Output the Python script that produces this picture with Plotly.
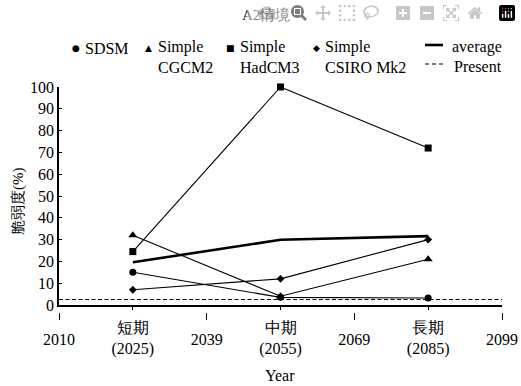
import plotly.graph_objects as go

# ---- data ----
period_labels = ["短期<br>(2025)", "中期<br>(2055)", "長期<br>(2085)"]
period_pos = [1, 3, 5]
year_labels = ["2010", "2039", "2069", "2099"]
year_pos = [0, 2, 4, 6]

sdsm = [15, 3.5, 3.2]
cgcm2 = [32, 4, 21]
hadcm3 = [24.5, 100, 72]
csiro = [7, 12, 30]
average = [19.6, 29.9, 31.6]
present = 2.5
present_x = [0, 6]

# body margin is removed by post_script, so coordinates are screen pixels
W, H = 521, 386
PL, PR, PT, PB = 59, 502, 87, 312   # plot area (PB = lower tick axis)
ML, MR, MT, MB = PL, W - PR, PT, H - PB
PW, PH = W - ML - MR, H - MT - MB
FONT = "Liberation Serif"


def px(x):
    return (x - PL) / PW


def py(y):
    return (PB - y) / PH


fig = go.Figure()

series = [
    (sdsm, "circle", 7),
    (cgcm2, "triangle-up", 8),
    (hadcm3, "square", 7),
    (csiro, "diamond", 6),
]
for vals, sym, sz in series:
    fig.add_trace(go.Scatter(
        x=period_pos, y=vals, mode="lines+markers",
        line=dict(color="black", width=1.1),
        marker=dict(symbol=sym, size=sz, color="black"),
        showlegend=False, cliponaxis=False))

fig.add_trace(go.Scatter(
    x=period_pos, y=average, mode="lines",
    line=dict(color="black", width=2.6), showlegend=False))

fig.add_trace(go.Scatter(
    x=present_x, y=[present, present], mode="lines", xaxis="x2", yaxis="y",
    line=dict(color="black", width=1.1, dash="4px,2.5px"), showlegend=False))


def note(text, x, y, size=16, xanchor="center", yanchor="middle", family=FONT, **kw):
    return dict(text=text, x=px(x), y=py(y), xref="paper", yref="paper",
                showarrow=False, xanchor=xanchor, yanchor=yanchor,
                font=dict(size=size, family=family, color="black"), **kw)


ann = [
    note("A2情境", 266, 15, size=15),
    note("脆弱度(%)", 18, 201, size=15, textangle=-90),
    note("Year", 280, 375, size=16),
]

# legend (manual)
leg_items = [
    ("●", 76, "SDSM", 83, 48),
    ("▲", 148, "Simple<br>CGCM2", 156, 57.5),
    ("■", 230, "Simple<br>HadCM3", 238, 57.5),
    ("◆", 316, "Simple<br>CSIRO Mk2", 323, 57.5),
]
for s, sx, t, tx, ty in leg_items:
    ann.append(note(s, sx, 48, size=9, family="DejaVu Sans"))
    ann.append(note(t, tx, ty, size=16, xanchor="left", align="left"))
ann.append(note("average", 504, 47, xanchor="right"))
ann.append(note("Present", 504, 66, xanchor="right"))

shapes = [
    dict(type="line", xref="paper", yref="paper", x0=px(425), x1=px(443), y0=py(45), y1=py(45),
         line=dict(color="black", width=2.6)),
    dict(type="line", xref="paper", yref="paper", x0=px(425), x1=px(443), y0=py(64), y1=py(64),
         line=dict(color="black", width=1.1, dash="4px,3px")),
]

fig.update_layout(
    width=W, height=H,
    margin=dict(l=ML, r=MR, t=MT, b=MB, pad=0, autoexpand=False),
    paper_bgcolor="white", plot_bgcolor="white",
    font=dict(family=FONT, size=16, color="black"),
    annotations=ann, shapes=shapes, showlegend=False,
    xaxis=dict(range=[0, 6], tickvals=period_pos, ticktext=period_labels,
               ticks="outside", ticklen=3, tickcolor="black", showline=True,
               linecolor="black", linewidth=1.5, showgrid=False, zeroline=False,
               tickfont=dict(size=16, family=FONT), ticklabelstandoff=4, anchor="y",
               automargin=False),
    xaxis2=dict(range=[0, 6], tickvals=year_pos, ticktext=year_labels,
                overlaying="x", anchor="free", position=0, side="bottom",
                ticks="outside", ticklen=7, tickcolor="black", showline=False,
                showgrid=False, zeroline=False, tickfont=dict(size=16, family=FONT),
                ticklabelstandoff=6, automargin=False, ticklabeloverflow="allow"),
    yaxis=dict(range=[0, 100], domain=[(PB - 305) / PH, 1], tickvals=list(range(0, 101, 10)),
               ticks="inside", ticklen=3, tickcolor="black", showline=True,
               linecolor="black", linewidth=1.5, showgrid=False, zeroline=False,
               tickfont=dict(size=16, family=FONT), ticklabelstandoff=0, automargin=False),
)

fig.write_html("out.html",
               post_script="document.body.style.margin='0';document.body.style.overflow='hidden';")
